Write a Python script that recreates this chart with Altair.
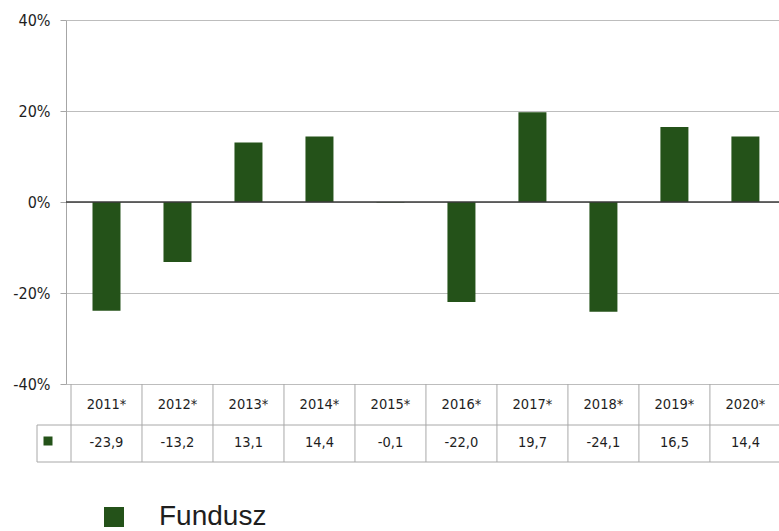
import altair as alt
import pandas as pd

years = ["2011*", "2012*", "2013*", "2014*", "2015*", "2016*", "2017*", "2018*", "2019*", "2020*"]
values = [-23.9, -13.2, 13.1, 14.4, -0.1, -22.0, 19.7, -24.1, 16.5, 14.4]
series_name = "Fundusz"
y_ticks = [-40, -20, 0, 20, 40]

GREEN = "#245219"
GRID = "#bdbdbd"
LINE = "#a8a8a8"
TXT = "#1e1e1e"
TFONT = "Liberation Sans Narrow, DejaVu Sans Condensed, sans-serif"

COL_W = 72
PLOT_W = 713
PLOT_H = 364

df = pd.DataFrame({"year": years, "value": values})
df["idx"] = range(len(years))
df["center"] = df["idx"] + 0.5
df["series"] = series_name
df["label"] = [f"{v:.1f}".replace(".", ",") for v in values]

bounds = pd.DataFrame({"b": list(range(len(years) + 1))})
one = pd.DataFrame({"a": [0]})

xs = alt.Scale(domain=[0, PLOT_W / COL_W], nice=False, zero=False)
ys = alt.Scale(domain=[-40, 40], nice=False)

yaxis = alt.Axis(
    values=y_ticks,
    labelExpr="datum.value + '%'",
    grid=True,
    gridColor=GRID,
    domainColor="#a6a6a6",
    tickColor="#a6a6a6",
    tickSize=6,
    labelPadding=10,
    labelFontSize=16,
    labelFont=TFONT,
    labelColor=TXT,
    title=None,
)

bars = alt.Chart(df).mark_bar(size=28).encode(
    x=alt.X("center:Q", scale=xs, axis=None),
    y=alt.Y("value:Q", scale=ys, axis=yaxis),
    y2=alt.datum(0),
    color=alt.Color(
        "series:N",
        scale=alt.Scale(range=[GREEN]),
        legend=alt.Legend(
            orient="none",
            legendX=34,
            legendY=483,
            title=None,
            symbolType="square",
            symbolSize=400,
            symbolStrokeWidth=0,
            labelFontSize=28,
            labelFont="Liberation Sans, Arial, sans-serif",
            labelColor=TXT,
            labelOffset=31,
        ),
    ),
)

zero = alt.Chart(one).mark_rule(color="#3a3a3a", strokeWidth=1.5).encode(
    y=alt.value(PLOT_H / 2)
)

vlines = alt.Chart(bounds).mark_rule(color=LINE, strokeWidth=1).encode(
    x=alt.X("b:Q", scale=xs, axis=None),
    y=alt.value(PLOT_H),
    y2=alt.value(442),
)

hline1 = alt.Chart(one).mark_rule(color=LINE, strokeWidth=1).encode(
    x=alt.value(-29), x2=alt.value(PLOT_W), y=alt.value(405)
)
hline2 = alt.Chart(one).mark_rule(color=LINE, strokeWidth=1).encode(
    x=alt.value(-29), x2=alt.value(PLOT_W), y=alt.value(442)
)
lline = alt.Chart(one).mark_rule(color=LINE, strokeWidth=1).encode(
    x=alt.value(-29), y=alt.value(405), y2=alt.value(442)
)
key = alt.Chart(one).mark_square(size=81, color=GREEN, opacity=1).encode(
    x=alt.value(-18), y=alt.value(421)
)

year_text = alt.Chart(df).mark_text(font=TFONT, fontSize=14.5, color=TXT, baseline="middle").encode(
    x=alt.X("center:Q", scale=xs, axis=None),
    y=alt.value(385),
    text="year:N",
)
val_text = alt.Chart(df).mark_text(font=TFONT, fontSize=14.5, color=TXT, baseline="middle").encode(
    x=alt.X("center:Q", scale=xs, axis=None),
    y=alt.value(423),
    text="label:N",
)

chart = alt.layer(
    bars, zero, vlines, hline1, hline2, lline, key, year_text, val_text
).properties(
    width=PLOT_W,
    height=PLOT_H,
    padding={"left": 66, "top": 20, "right": 0, "bottom": 147},
    autosize=alt.AutoSizeParams(type="none"),
    background="white",
).configure_view(stroke=None)

chart.save("out.html", embed_options={"renderer": "svg", "actions": False})
